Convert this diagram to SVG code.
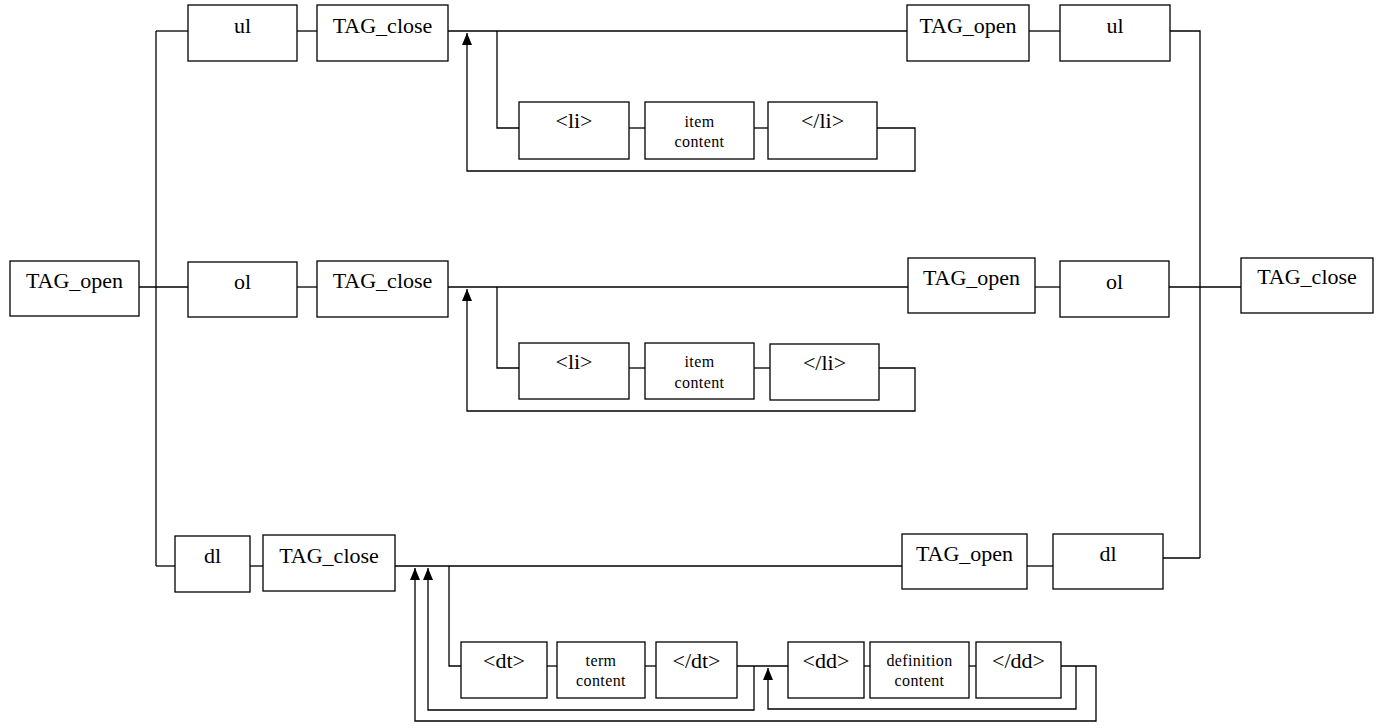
<svg xmlns="http://www.w3.org/2000/svg" width="1379" height="728" viewBox="0 0 1379 728">
  <defs>
    <marker id="arrow" viewBox="0 0 12 10" refX="12" refY="5" markerWidth="12" markerHeight="10" markerUnits="userSpaceOnUse" orient="auto">
      <path d="M0,0 L12,5 L0,10 Z" fill="#000"/>
    </marker>
    <style>
      .box { fill: #fff; stroke: #000; stroke-width: 1.3; }
      .lbl { font-family: "Liberation Serif", "Times New Roman", serif; font-size: 22px; fill: #000; text-anchor: middle; }
      .sm { font-family: "Liberation Serif", "Times New Roman", serif; font-size: 16px; fill: #000; text-anchor: middle; letter-spacing: 0.4px; }
      .wire { fill: none; stroke: #000; stroke-width: 1.3; }
      .back { fill: none; stroke: #000; stroke-width: 1.3; marker-end: url(#arrow); }
    </style>
  </defs>
  <rect width="1379" height="728" fill="#fff"/>

  <g id="connectors">
    <!-- fan-out from the outer opening tag -->
    <path class="wire" d="M156,31 V566"/>
    <path class="wire" d="M156,31 H188"/>
    <path class="wire" d="M139,287 H188"/>
    <path class="wire" d="M156,566 H175"/>
    <!-- ul row -->
    <path class="wire" d="M297,31 H317"/>
    <path class="wire" d="M448,31 H907"/>
    <path class="wire" d="M497,31 V128 H519"/>
    <path class="wire" d="M629,128 H645"/>
    <path class="wire" d="M754,128 H768"/>
    <path class="back" d="M877,128 H915 V171 H467 V33"/>
    <path class="wire" d="M1029,31 H1060"/>
    <path class="wire" d="M1170,31 H1200 V558"/>
    <!-- ol row -->
    <path class="wire" d="M297,287 H317"/>
    <path class="wire" d="M448,287 H908"/>
    <path class="wire" d="M497,287 V368 H519"/>
    <path class="wire" d="M629,368 H645"/>
    <path class="wire" d="M754,368 H770"/>
    <path class="back" d="M879,368 H915 V411 H467 V289"/>
    <path class="wire" d="M1035,287 H1060"/>
    <path class="wire" d="M1169,287 H1241"/>
    <!-- dl row -->
    <path class="wire" d="M250,566 H263"/>
    <path class="wire" d="M395,566 H902"/>
    <path class="wire" d="M449,566 V666 H461"/>
    <path class="wire" d="M547,666 H557"/>
    <path class="wire" d="M645,666 H656"/>
    <path class="wire" d="M737,666 H788"/>
    <path class="back" d="M754,666 V710 H428 V568"/>
    <path class="wire" d="M864,666 H870"/>
    <path class="wire" d="M969,666 H976"/>
    <path class="back" d="M1061,666 H1096 V721 H415 V568"/>
    <path class="back" d="M1076,666 V709 H768 V668"/>
    <path class="wire" d="M1027,566 H1053"/>
    <path class="wire" d="M1163,558 H1200"/>
  </g>

  <g id="tag-open-start"><rect class="box" x="10" y="261" width="129" height="55"/><text class="lbl" x="74.5" y="288">TAG_open</text></g>

  <g id="ul-open"><rect class="box" x="188" y="5" width="109" height="56"/><text class="lbl" x="242.5" y="33">ul</text></g>
  <g id="ul-tag-close"><rect class="box" x="317" y="5" width="131" height="56"/><text class="lbl" x="382.5" y="33">TAG_close</text></g>
  <g id="ul-li-open"><rect class="box" x="519" y="102" width="110" height="57"/><text class="lbl" x="574" y="128">&lt;li&gt;</text></g>
  <g id="ul-item-content"><rect class="box" x="645" y="102" width="109" height="57"/><text class="sm" x="699.5" y="127">item</text><text class="sm" x="699.5" y="147">content</text></g>
  <g id="ul-li-close"><rect class="box" x="768" y="102" width="109" height="57"/><text class="lbl" x="822.5" y="128">&lt;/li&gt;</text></g>
  <g id="ul-tag-open"><rect class="box" x="907" y="5" width="122" height="56"/><text class="lbl" x="968" y="33">TAG_open</text></g>
  <g id="ul-close"><rect class="box" x="1060" y="5" width="110" height="56"/><text class="lbl" x="1115" y="33">ul</text></g>

  <g id="ol-open"><rect class="box" x="188" y="262" width="109" height="55"/><text class="lbl" x="242.5" y="289">ol</text></g>
  <g id="ol-tag-close"><rect class="box" x="317" y="261" width="131" height="56"/><text class="lbl" x="382.5" y="288">TAG_close</text></g>
  <g id="ol-li-open"><rect class="box" x="519" y="343" width="110" height="56"/><text class="lbl" x="574" y="369">&lt;li&gt;</text></g>
  <g id="ol-item-content"><rect class="box" x="645" y="343" width="109" height="56"/><text class="sm" x="699.5" y="367">item</text><text class="sm" x="699.5" y="388">content</text></g>
  <g id="ol-li-close"><rect class="box" x="770" y="344" width="109" height="56"/><text class="lbl" x="824.5" y="370">&lt;/li&gt;</text></g>
  <g id="ol-tag-open"><rect class="box" x="908" y="258" width="127" height="55"/><text class="lbl" x="971.5" y="285">TAG_open</text></g>
  <g id="ol-close"><rect class="box" x="1060" y="261" width="109" height="56"/><text class="lbl" x="1114.5" y="289">ol</text></g>

  <g id="tag-close-end"><rect class="box" x="1241" y="258" width="132" height="55"/><text class="lbl" x="1307" y="284">TAG_close</text></g>

  <g id="dl-open"><rect class="box" x="175" y="536" width="75" height="56"/><text class="lbl" x="212.5" y="563">dl</text></g>
  <g id="dl-tag-close"><rect class="box" x="263" y="535" width="132" height="56"/><text class="lbl" x="329" y="563">TAG_close</text></g>
  <g id="dt-open"><rect class="box" x="461" y="642" width="86" height="56"/><text class="lbl" x="504" y="668">&lt;dt&gt;</text></g>
  <g id="term-content"><rect class="box" x="557" y="642" width="88" height="56"/><text class="sm" x="601" y="666">term</text><text class="sm" x="601" y="686">content</text></g>
  <g id="dt-close"><rect class="box" x="656" y="642" width="81" height="56"/><text class="lbl" x="696.5" y="668">&lt;/dt&gt;</text></g>
  <g id="dd-open"><rect class="box" x="788" y="642" width="76" height="56"/><text class="lbl" x="826" y="668">&lt;dd&gt;</text></g>
  <g id="definition-content"><rect class="box" x="870" y="642" width="99" height="56"/><text class="sm" x="919.5" y="666">definition</text><text class="sm" x="919.5" y="686">content</text></g>
  <g id="dd-close"><rect class="box" x="976" y="642" width="85" height="56"/><text class="lbl" x="1018.5" y="668">&lt;/dd&gt;</text></g>
  <g id="dl-tag-open"><rect class="box" x="902" y="534" width="125" height="55"/><text class="lbl" x="964.5" y="561">TAG_open</text></g>
  <g id="dl-close"><rect class="box" x="1053" y="534" width="110" height="55"/><text class="lbl" x="1108" y="561">dl</text></g>
</svg>
